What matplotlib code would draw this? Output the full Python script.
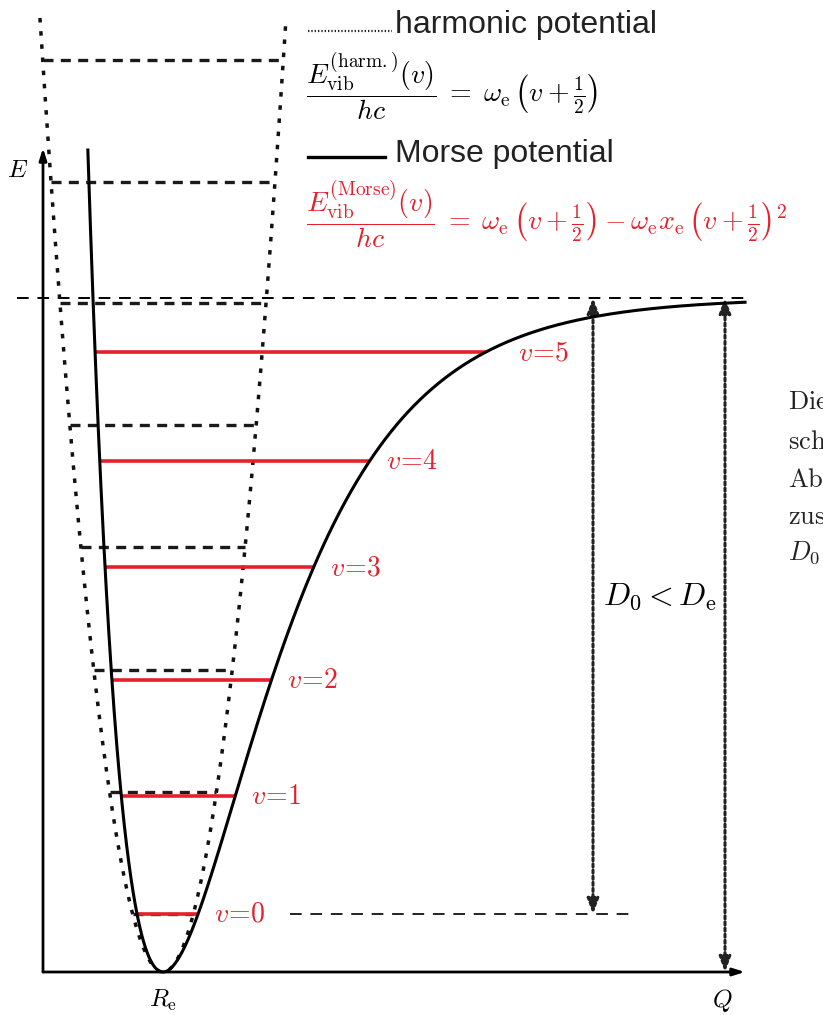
import numpy as np
import matplotlib
matplotlib.use("Agg")
import matplotlib.pyplot as plt

plt.rcParams['mathtext.fontset'] = 'cm'

# ---- data (arbitrary energy / coordinate units) ----
morse_De = 674.0          # dissociation energy (well depth)
morse_a = 0.0099          # Morse width parameter
morse_Re = 120.0          # equilibrium distance
harm_k = 0.063            # harmonic force constant (E = k (Q-Re)^2)
morse_levels = [58, 176, 292, 405, 511, 620]          # v = 0..5
morse_labels = ["0", "1", "2", "3", "4", "5"]
harm_levels = [58, 180, 302, 425, 547, 669, 790, 912]  # v = 0..7
morse_E_top = 822.0
harm_E_top = 954.0
Q_max = 702.0
E_max = 824.0
side_text = [r'$\mathrm{Die}$', r'$\mathrm{sch}$', r'$\mathrm{Ab}$',
             r'$\mathrm{zus}$', r'$D_0$']

RED = '#e5202b'

fig = plt.figure(figsize=(8.23, 10.15), dpi=100)
ax = fig.add_axes([0, 0, 1, 1])
ax.set_xlim(-43, 780)
ax.set_ylim(-43, 972)
ax.axis('off')


def morse(q):
    return morse_De * (1 - np.exp(-morse_a * (q - morse_Re))) ** 2


def morse_turning(E):
    s = np.sqrt(E / morse_De)
    ql = morse_Re - np.log(1 + s) / morse_a
    qr = morse_Re - np.log(1 - s) / morse_a
    return ql, qr


# axes arrows
for xy in [(0, E_max), (Q_max, 0)]:
    ax.annotate('', xy=xy, xytext=(0, 0),
                arrowprops=dict(arrowstyle='-|>,head_length=0.7,head_width=0.22',
                                lw=2.0, color='black', shrinkA=0, shrinkB=0))
ax.text(-25, 802, r'$E$', fontsize=18, ha='center', va='center')
ax.text(679, -28, r'$Q$', fontsize=18, ha='center', va='center')
ax.text(morse_Re, -28, r'$R_{\rm e}$', fontsize=18, ha='center', va='center')

# dissociation asymptote
ax.plot([-26, Q_max], [morse_De, morse_De], color='black', lw=1.4,
        linestyle=(0, (6, 4.5)))

# harmonic potential (dotted)
qh = np.sqrt(harm_E_top / harm_k)
qq = np.linspace(morse_Re - qh, morse_Re + qh, 600)
ax.plot(qq, harm_k * (qq - morse_Re) ** 2, color='#111111', lw=2.5,
        linestyle=(0, (1.3, 2.5)), dash_capstyle='butt')

# harmonic levels (dashed)
for E in harm_levels:
    w = np.sqrt(E / harm_k)
    ax.plot([morse_Re - w, morse_Re + w], [E, E], color='#1a1a1a', lw=2.4,
            linestyle=(0, (3.0, 2.2)), dash_capstyle='butt')

# Morse potential
q_left = morse_Re - np.log(1 + np.sqrt(morse_E_top / morse_De)) / morse_a
qm = np.linspace(q_left, Q_max, 1500)
ax.plot(qm, morse(qm), color='black', lw=2.2, zorder=4)

# Morse levels (red)
for i, (E, lab) in enumerate(zip(morse_levels, morse_labels)):
    ql, qr = morse_turning(E)
    ax.plot([ql, qr], [E, E], color=RED, lw=2.6, zorder=3,
            solid_capstyle='butt')
    off = 32 if i == len(morse_levels) - 1 else 16
    ax.text(qr + off, E, r'$v\!=\!%s$' % lab, color=RED,
            fontsize=20, ha='left', va='center')

# dashed line from v=0 to the right
ax.plot([247, 594], [morse_levels[0], morse_levels[0]], color='#222222', lw=1.4,
        linestyle=(0, (6, 4.5)))

# D0 and De arrows
for xq, ybot in [(550, morse_levels[0]), (682, 0)]:
    ax.annotate('', xy=(xq, morse_De), xytext=(xq, ybot),
                arrowprops=dict(arrowstyle='<|-|>,head_length=0.9,head_width=0.35',
                                lw=2.2, color='#222222', linestyle=(0, (1, 1)),
                                shrinkA=0, shrinkB=0))
ax.text(617, 375, r'$D_0 < D_{\rm e}$', fontsize=23, ha='center', va='center')

# legend
ax.plot([265, 349], [941, 941], color='#222222', lw=1.6, linestyle=(0, (0.6, 0.9)))
ax.text(352, 939, 'harmonic potential', fontsize=23, family='Liberation Sans',
        ha='left', va='baseline', color='#222222')
ax.text(263, 886,
        r'$\dfrac{E_{\rm vib}^{\rm (harm.)}(v)}{hc} \;=\; \omega_{\rm e}\,\left(v+\frac{1}{2}\right)$',
        fontsize=20, ha='left', va='center')
ax.plot([265, 342], [815, 815], color='black', lw=2.4)
ax.text(352, 810, 'Morse potential', fontsize=23, family='Liberation Sans',
        ha='left', va='baseline', color='#222222')
ax.text(263, 758,
        r'$\dfrac{E_{\rm vib}^{\rm (Morse)}(v)}{hc} \;=\; \omega_{\rm e}\,\left(v+\frac{1}{2}\right) - \omega_{\rm e}x_{\rm e}\,\left(v+\frac{1}{2}\right)^2$',
        fontsize=20, ha='left', va='center', color=RED)

# cut-off side text
for yy, t in zip([570, 530, 492, 455, 419], side_text):
    ax.text(745, yy, t, fontsize=19, ha='left', va='center', color='#222222')

fig.savefig('out.png', dpi=100)
